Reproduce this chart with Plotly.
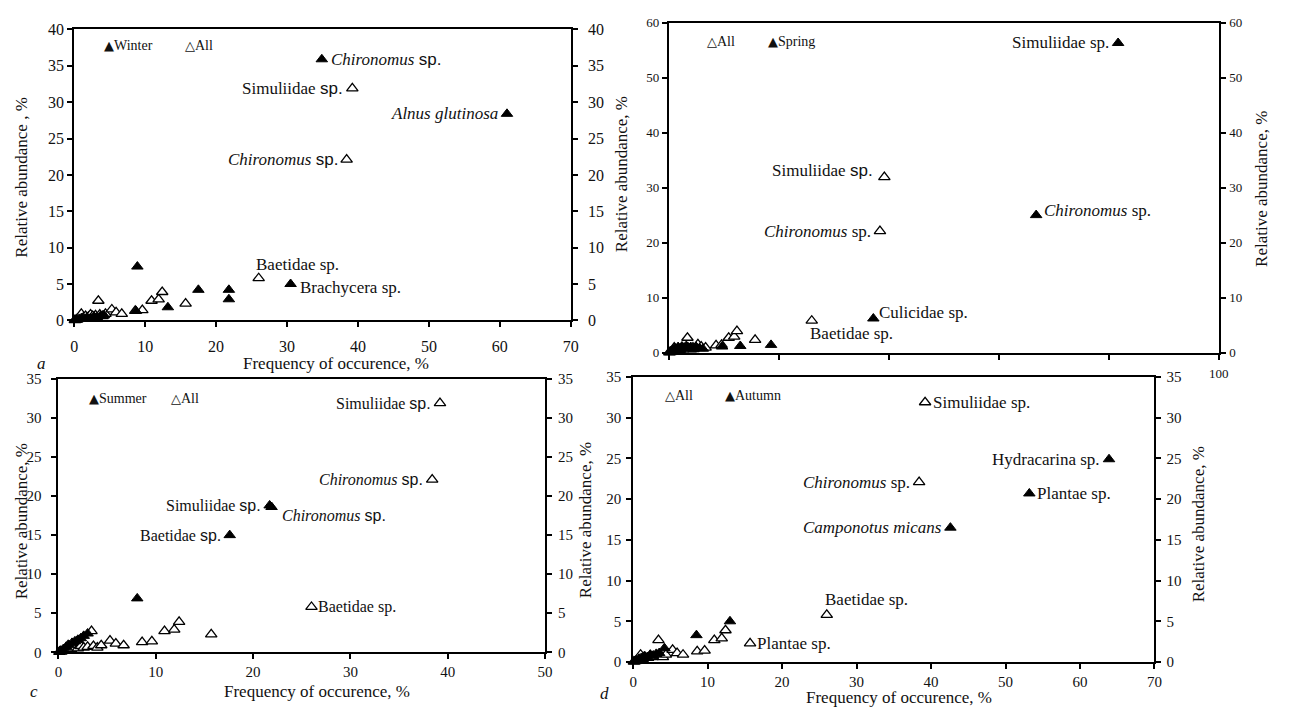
import plotly.graph_objects as go

W, H = 1298, 713
SERIF = "Liberation Serif"
SANS = "Liberation Sans"

# ---------------- data (frequency of occurrence %, relative abundance %) ----------------
all_freq = [0.1, 0.3, 0.5, 0.7, 0.9, 1.0, 1.3, 1.6, 2.0, 2.3, 2.6, 3.0, 3.4, 3.6, 4.0, 4.4,
            5.3, 5.9, 6.7, 8.6, 9.6, 10.9, 11.9, 12.4, 15.7, 26.0, 38.4, 39.2]
all_abund = [0.05, 0.1, 0.2, 0.3, 0.4, 0.9, 0.4, 0.6, 0.5, 0.8, 0.6, 0.7, 2.7, 0.8, 0.6, 0.9,
             1.5, 1.1, 0.9, 1.3, 1.4, 2.7, 2.9, 3.9, 2.3, 5.8, 22.1, 31.9]
all_names = [""] * 24 + ["Plantae sp.", "Baetidae sp.", "Chironomus sp.", "Simuliidae sp."]

winter_freq = [0.1, 0.4, 0.7, 1.0, 1.4, 1.8, 2.3, 2.8, 3.2, 3.7, 4.2,
               8.7, 8.9, 13.2, 17.5, 21.8, 21.8, 30.5, 34.9, 61.0]
winter_abund = [0.05, 0.1, 0.2, 0.3, 0.2, 0.4, 0.3, 0.5, 0.4, 0.6, 0.7,
                1.3, 7.4, 1.8, 4.2, 4.2, 2.9, 5.0, 35.9, 28.4]
winter_names = [""] * 17 + ["Brachycera sp.", "Chironomus sp.", "Alnus glutinosa"]

spring_freq = [0.2, 0.5, 0.8, 1.1, 1.4, 1.7, 2.0, 2.4, 2.8, 3.2, 3.6, 4.0, 4.5, 5.0, 5.6, 6.2,
               9.7, 13.0, 18.6, 37.2, 66.8, 81.7]
spring_abund = [0.1, 0.3, 0.5, 0.8, 0.6, 1.0, 0.7, 1.1, 0.9, 1.2, 0.8, 1.0, 0.6, 1.0, 0.8, 0.7,
                1.1, 1.2, 1.4, 6.2, 25.0, 56.3]
spring_names = [""] * 19 + ["Culicidae sp.", "Chironomus sp.", "Simuliidae sp."]

summer_freq = [0.2, 0.5, 0.8, 1.1, 1.4, 1.7, 2.0, 2.3, 2.6, 3.0, 8.1, 17.6, 21.7, 21.9]
summer_abund = [0.2, 0.4, 0.7, 0.9, 1.2, 1.4, 1.6, 1.8, 2.1, 2.4, 6.9, 15.0, 18.8, 18.6]
summer_names = [""] * 11 + ["Baetidae sp.", "Simuliidae sp.", "Chironomus sp."]

autumn_freq = [0.2, 0.5, 0.8, 1.1, 1.5, 1.9, 2.3, 2.7, 3.1, 3.5, 4.2, 8.5, 13.0, 42.6, 53.2, 63.9]
autumn_abund = [0.1, 0.2, 0.4, 0.5, 0.7, 0.6, 0.9, 0.8, 1.0, 1.1, 1.7, 3.3, 5.0, 16.5, 20.7, 24.9]
autumn_names = [""] * 13 + ["Camponotus micans", "Plantae sp.", "Hydracarina sp."]

y_title = "Relative abundance, %"
x_title = "Frequency of occurence, %"

# ---------------- layout helpers ----------------
def fx(px):
    return px / W

def fy(py):
    return 1 - py / H

ITALIC = {"Chironomus sp.": "<i>Chironomus</i> sp.",
          "Alnus glutinosa": "<i>Alnus glutinosa</i>",
          "Camponotus micans": "<i>Camponotus micans</i>"}

panels = [
    dict(key="a", n=1, season="Winter", fq=winter_freq, ab=winter_abund, nm=winter_names,
         xpx=(71, 573), ypx=(22, 320), xr=[0, 70], xd=10, yr=[0, 40], yd=5, tick=16, lab=17,
         so=dict(x=5, y=0, r=7),
         legend=[("▲", "Winter", 4.9, 37.8), ("△", "All", 16.3, 37.8)],
         labels=[("s", "Chironomus sp.", "right", 7, 0, True), ("a", "Simuliidae sp.", "left", 7, 0, True),
                 ("s", "Alnus glutinosa", "left", 7, 0, False), ("a", "Chironomus sp.", "left", 7, 0, True),
                 ("a", "Baetidae sp.", "above", -5, 14, False), ("s", "Brachycera sp.", "right", 7, -3, False)]),
    dict(key="b", n=2, season="Spring", fq=spring_freq, ab=spring_abund, nm=spring_names,
         xpx=(672, 1228), ypx=(15, 353), xr=[0, 100], xd=20, yr=[0, 60], yd=10, tick=13, lab=17,
         so=dict(x=3, y=0, r=1),
         legend=[("△", "All", 7.9, 56.6), ("▲", "Spring", 19.0, 56.6)],
         labels=[("s", "Simuliidae sp.", "left", 7, 0, False), ("a", "Simuliidae sp.", "left", 9, 7, True),
                 ("s", "Chironomus sp.", "right", 6, 5, False), ("a", "Chironomus sp.", "left", 7, 0, False),
                 ("s", "Culicidae sp.", "right", 4, 6, False), ("a", "Baetidae sp.", "below", -4, -13, False)]),
    dict(key="c", n=3, season="Summer", fq=summer_freq, ab=summer_abund, nm=summer_names,
         xpx=(55, 547), ypx=(380, 660), xr=[0, 50], xd=10, yr=[0, 35], yd=5, tick=15, lab=16,
         so=dict(x=0, y=7, r=3),
         legend=[("▲", "Summer", 3.7, 32.5), ("△", "All", 12.1, 32.5)],
         labels=[("a", "Simuliidae sp.", "left", 7, 0, True), ("a", "Chironomus sp.", "left", 7, 0, True),
                 ("s", "Simuliidae sp.", "left", 7, 0, True), ("s", "Chironomus sp.", "right", 8, -8, True),
                 ("s", "Baetidae sp.", "left", 7, 0, True), ("a", "Baetidae sp.", "right", 5, 0, False)]),
    dict(key="d", n=4, season="Autumn", fq=autumn_freq, ab=autumn_abund, nm=autumn_names,
         xpx=(636, 1163), ypx=(378, 670), xr=[0, 70], xd=10, yr=[0, 35], yd=5, tick=15, lab=17,
         so=dict(x=0, y=2, r=2),
         legend=[("△", "All", 4.9, 32.7), ("▲", "Autumn", 13.0, 32.7)],
         labels=[("a", "Simuliidae sp.", "right", 6, 0, False), ("s", "Hydracarina sp.", "left", 7, 0, False),
                 ("a", "Chironomus sp.", "left", 7, 0, False), ("s", "Plantae sp.", "right", 6, 0, False),
                 ("s", "Camponotus micans", "left", 6, 0, False), ("a", "Baetidae sp.", "above", -4, 15, False),
                 ("a", "Plantae sp.", "right", 5, 0, False)]),
]


def axis_base(size, standoff):
    return dict(showline=True, linewidth=2, linecolor="black", ticks="outside", ticklen=5,
                tickwidth=2, tickcolor="black", showgrid=False, zeroline=False,
                ticklabelstandoff=standoff,
                tickfont=dict(family=SERIF, size=size, color="#111"), fixedrange=True)


fig = go.Figure()
layout = dict(width=W, height=H, margin=dict(l=0, r=0, t=0, b=0, pad=0), plot_bgcolor="white",
              paper_bgcolor="white", showlegend=False, font=dict(family=SERIF, color="#111"))
annotations = []

for p in panels:
    n = p["n"]
    xa = "x" if n == 1 else f"x{n}"
    ya = "y" if n == 1 else f"y{n}"
    yr_name = f"y{n + 4}"
    xkey = "xaxis" if n == 1 else f"xaxis{n}"
    ykey = "yaxis" if n == 1 else f"yaxis{n}"
    rkey = f"yaxis{n + 4}"

    xax = axis_base(p["tick"], p["so"]["x"])
    xax.update(domain=[fx(p["xpx"][0]), fx(p["xpx"][1])], range=p["xr"], anchor=ya, mirror=True)
    if p["key"] == "b":
        vals = list(range(0, 101, p["xd"]))
        xax.update(tickvals=vals, ticktext=["" for v in vals[:-1]] + [str(vals[-1])])
    else:
        xax.update(dtick=p["xd"], tick0=0)
    yax = axis_base(p["tick"], p["so"]["y"])
    yax.update(domain=[fy(p["ypx"][1]), fy(p["ypx"][0])], range=p["yr"], dtick=p["yd"], anchor=xa)
    rax = axis_base(p["tick"], p["so"]["r"])
    rax.update(range=p["yr"], dtick=p["yd"], overlaying=ya, side="right", anchor=xa)
    layout[xkey] = xax
    layout[ykey] = yax
    layout[rkey] = rax

    fig.add_trace(go.Scatter(x=[None], y=[None], xaxis=xa, yaxis=yr_name, showlegend=False,
                             hoverinfo="skip"))
    fig.add_trace(go.Scatter(x=all_freq, y=all_abund, mode="markers", name="All", xaxis=xa, yaxis=ya,
                             cliponaxis=False,
                             marker=dict(symbol="triangle-up", size=10, color="white",
                                         line=dict(color="black", width=1.3))))
    fig.add_trace(go.Scatter(x=p["fq"], y=p["ab"], mode="markers", name=p["season"], xaxis=xa, yaxis=ya,
                             cliponaxis=False,
                             marker=dict(symbol="triangle-up", size=10, color="black",
                                         line=dict(color="black", width=1))))

    # in-plot legend text
    for glyph, txt, lx, ly in p["legend"]:
        annotations.append(dict(xref=xa, yref=ya, x=lx, y=ly, xanchor="left", yanchor="middle",
                                xshift=-7, showarrow=False,
                                text=f"<span style='font-family:DejaVu Sans;font-size:13px'>{glyph}</span>{txt}",
                                font=dict(family=SERIF, size=14, color="#111")))

    # point labels
    for ser, name, side, dx, dy, sans_sp in p["labels"]:
        if ser == "a":
            idx = all_names.index(name)
            px_, py_ = all_freq[idx], all_abund[idx]
        else:
            idx = p["nm"].index(name)
            px_, py_ = p["fq"][idx], p["ab"][idx]
        text = ITALIC.get(name, name)
        if sans_sp and text.endswith(" sp."):
            text = text[:-4] + " <span style='font-family:Liberation Sans'>sp.</span>"
        if side == "left":
            xanchor, xshift = "right", -dx
        else:
            xanchor, xshift = "left", dx
        annotations.append(dict(xref=xa, yref=ya, x=px_, y=py_, xanchor=xanchor, yanchor="middle",
                                xshift=xshift, yshift=dy, showarrow=False, text=text,
                                font=dict(family=SERIF, size=p["lab"], color="#111")))

# axis titles and panel letters (paper coordinates)
def title(px, py, text, angle=0, size=17, italic=False):
    annotations.append(dict(xref="paper", yref="paper", x=fx(px), y=fy(py), xanchor="center",
                            yanchor="middle", showarrow=False, textangle=angle,
                            text=f"<i>{text}</i>" if italic else text,
                            font=dict(family=SERIF, size=size, color="#111")))

title(18, 173, "Relative abundance , %", -90)
title(625, 170, y_title, -90)
title(336, 364, x_title)
title(38, 364, "a", italic=True)
title(1271, 185, y_title, -90)
title(18, 526, y_title, -90)
title(588, 525, y_title, -90)
title(316, 700, x_title)
title(30, 700, "c", italic=True)
title(1207, 529, y_title, -90)
title(905, 706, x_title)
title(607, 702, "d", italic=True)

layout["annotations"] = annotations
fig.update_layout(**layout)
fig.write_html("out.html", config={"displayModeBar": False},
               post_script="document.body.style.margin='0';document.body.style.overflow='hidden';")
